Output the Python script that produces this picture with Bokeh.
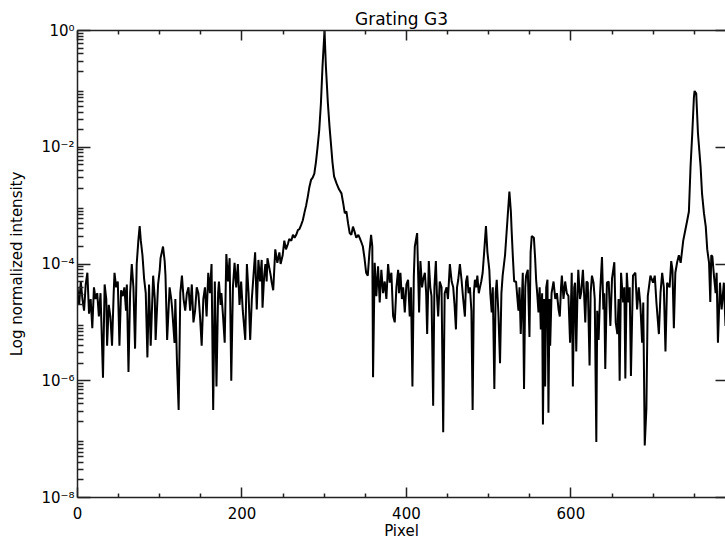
from bokeh.plotting import figure
from bokeh.models import LinearAxis, LogAxis, FixedTicker, CustomJSTickFormatter, Range1d
from bokeh.embed import file_html
from bokeh.resources import INLINE

title_text = "Grating G3"
x_label = "Pixel"
y_label = "Log normalized intensity"
x_major_ticks = [0, 200, 400, 600]
x_minor_ticks = [50, 100, 150, 250, 300, 350, 450, 500, 550, 650, 700, 750]
y_major_ticks = [1e-8, 1e-6, 1e-4, 1e-2, 1.0]

pixel = [
    0, 2, 4, 6, 8, 10, 12, 14, 16, 18,
    20, 22, 24, 26, 28, 31, 33, 35, 36, 38,
    40, 42, 44, 45, 47, 49, 51, 53, 55, 57,
    59, 60, 62, 64, 66, 68, 70, 72, 74, 75.6,
    77, 79, 81, 83, 85, 87, 89, 92, 94, 95,
    98, 100, 101, 104, 106, 107, 109, 112, 114, 115,
    118, 119, 121, 123, 125, 127, 129, 131, 133, 135,
    137, 139, 141, 143, 145, 147, 149, 151, 153, 155,
    157, 159, 161, 163, 165, 167, 169, 171, 172, 174,
    175, 177, 179, 181, 183, 185, 187, 189, 191, 193,
    195, 197, 199, 201, 204, 206, 208, 210, 212, 214,
    216, 218, 220, 222, 224, 225, 227, 228.5, 230, 231,
    233, 235, 236, 238, 240.5, 243, 245.5, 247, 249.5, 251.5,
    253.5, 256, 257.5, 260, 262, 264, 266, 268, 270, 272,
    274, 276, 278, 280, 282, 284, 286, 288, 290, 292,
    294, 296, 298, 300.4, 302, 304.5, 306.5, 308.5, 310, 312,
    315, 318, 321, 323, 325, 327, 329, 331, 333, 335,
    337, 339, 341.5, 343, 345.5, 347, 349, 351, 353, 355,
    357, 358.5, 359.4, 361.4, 363.4, 365.5, 367.5, 369.5, 371.6, 373.6,
    375.6, 377.7, 379.7, 381.7, 383.8, 385.8, 387.8, 389.9, 391, 392.7,
    394.5, 396, 398, 400, 402, 404, 405.5, 407.3, 409, 410.2,
    413, 415.4, 417, 419, 420.3, 422.4, 424, 425.2, 427.2, 429,
    430.5, 432.5, 434, 435.8, 437, 438.6, 440.5, 442.7, 444.7, 446.5,
    448.8, 450.5, 452.8, 455, 456.9, 458.5, 460.2, 461.5, 463, 465,
    467, 469, 471.1, 472.5, 474, 475.5, 477.2, 479, 480.5, 482,
    483.3, 485, 486.2, 488, 489.4, 491, 492.7, 494.5, 496.7, 498.5,
    500.8, 502, 503.7, 505, 506.9, 508.5, 509.8, 511.8, 513.8, 515.5,
    517, 519.9, 522.8, 525.2, 527, 528, 529.5, 531, 533.3, 535,
    536.2, 537.5, 539, 541.5, 543, 544.5, 545.5, 547.6, 549.6, 551,
    552.4, 555, 556.5, 557.7, 559, 560.6, 562, 563.4, 565, 566,
    567.5, 568.7, 570, 571.5, 572.7, 574, 574.8, 576.5, 578.9, 581,
    583, 585, 586.5, 588, 589, 591, 593, 595, 597, 599,
    601, 602.4, 604, 605, 606.5, 608, 609, 611, 612.5, 614.6,
    616, 617.5, 619, 620.5, 622.7, 624, 625.6, 627.5, 629, 630.9,
    632, 633.7, 635.5, 637.8, 639.5, 640.5, 641.8, 643.8, 646, 648,
    650, 652.8, 654.5, 656.5, 658, 659.3, 661, 663.5, 665, 666.2,
    668, 670, 671.5, 673, 675.5, 678.4, 680.5, 682.5, 684.5, 686.6,
    688, 689.8, 691.8, 693.5, 696.7, 699.9, 702, 704, 707, 709,
    711, 713, 715, 717, 720, 722, 723.5, 725.2, 727, 729.2,
    731.3, 733.5, 736.6, 739.4, 741.5, 743.5, 745.5, 747.6, 749.6, 750.4,
    752.4, 754.5, 757.7, 759.5, 761.8, 764, 765.8, 768, 769.5, 770.7,
    772, 774, 776, 777.2, 778.8, 781.3, 783.3, 786, 788, 790,
]

log10_intensity = [
    -4.4, -4.7, -4.3, -4.6, -4.8, -4.35, -4.15, -4.85, -4.6, -5.1,
    -4.4, -4.6, -4.5, -4.9, -4.5, -5.95, -4.35, -4.6, -5.4, -4.7,
    -4.9, -5.4, -4.5, -4.15, -4.4, -4.3, -5.4, -4.45, -4.55, -4.4,
    -4.8, -4.35, -5.85, -4.5, -4.0, -4.4, -5.45, -4.0, -3.6, -3.35,
    -3.6, -3.85, -4.25, -4.5, -5.6, -4.35, -5.4, -4.2, -4.6, -5.3,
    -4.35, -4.1, -3.9, -3.7, -3.95, -4.2, -5.3, -4.4, -4.6, -4.75,
    -5.35, -4.6, -5.7, -6.5, -4.5, -4.2, -4.6, -4.8, -4.5, -4.4,
    -4.8, -4.35, -5.0, -4.8, -4.4, -4.5, -4.9, -5.4, -4.6, -4.4,
    -4.9, -4.15, -4.5, -4.0, -6.5, -4.3, -6.1, -4.5, -4.3, -4.7,
    -4.5, -4.9, -5.35, -3.83, -4.3, -3.9, -6.0, -4.4, -3.98, -4.4,
    -4.0, -4.7, -4.3, -4.8, -5.3, -4.0, -4.5, -5.3, -4.6, -4.2,
    -3.8, -4.78, -3.93, -4.3, -3.93, -4.75, -4.2, -4.0, -4.3, -3.9,
    -4.05, -4.2, -4.3, -4.45, -3.75, -3.98, -3.8, -4.0, -3.85, -3.6,
    -3.75, -3.65, -3.57, -3.6, -3.5, -3.55, -3.5, -3.42, -3.4, -3.33,
    -3.25, -3.12, -3.0, -2.85, -2.68, -2.56, -2.52, -2.45, -2.25, -1.99,
    -1.7, -1.25, -0.6, 0.0, -0.6, -1.25, -1.65, -1.99, -2.25, -2.5,
    -2.62, -2.72, -2.79, -2.95, -3.13, -3.1, -3.3, -3.47, -3.5, -3.36,
    -3.45, -3.55, -3.5, -3.55, -3.64, -3.7, -3.9, -4.15, -4.2, -3.8,
    -3.5, -3.7, -5.94, -3.98, -4.55, -4.04, -4.66, -4.1, -4.5, -4.3,
    -4.6, -4.0, -4.32, -4.15, -4.89, -5.0, -4.4, -4.1, -4.5, -4.15,
    -4.6, -4.4, -4.83, -4.35, -4.27, -4.9, -4.4, -6.1, -4.2, -3.7,
    -3.47, -4.83, -3.95, -4.4, -4.27, -4.15, -4.5, -5.2, -3.95, -4.4,
    -4.55, -6.43, -4.4, -3.95, -4.5, -4.9, -4.3, -4.4, -6.88, -4.5,
    -4.4, -4.6, -4.0, -4.3, -4.4, -4.7, -5.12, -4.4, -4.27, -4.0,
    -4.27, -4.6, -4.9, -4.3, -4.2, -4.5, -4.4, -4.8, -6.5, -4.5,
    -4.27, -4.4, -4.2, -4.5, -4.4, -4.3, -4.15, -3.8, -3.35, -3.8,
    -4.1, -4.5, -4.83, -4.4, -6.14, -4.5, -4.27, -4.83, -5.7, -4.5,
    -4.2, -3.85, -3.25, -2.76, -3.1, -3.45, -3.9, -4.3, -4.3, -4.6,
    -4.8, -4.4, -5.2, -4.15, -6.14, -4.4, -4.2, -4.1, -5.25, -3.8,
    -3.52, -3.55, -3.9, -4.27, -4.5, -4.83, -4.4, -5.12, -4.5, -6.75,
    -4.6, -6.1, -4.4, -4.27, -6.55, -4.6, -5.4, -4.5, -4.3, -4.6,
    -4.5, -4.78, -4.9, -4.4, -4.2, -4.6, -4.3, -4.5, -4.55, -5.35,
    -4.15, -6.1, -4.4, -4.32, -5.5, -4.5, -4.1, -4.6, -4.49, -4.1,
    -4.5, -5.0, -4.3, -4.32, -5.74, -4.5, -4.2, -4.32, -4.6, -7.05,
    -4.8, -5.3, -4.5, -3.88, -4.78, -4.5, -5.8, -4.32, -4.3, -5.06,
    -4.25, -3.97, -5.0, -5.2, -4.6, -6.0, -4.15, -4.66, -4.4, -5.96,
    -4.15, -4.66, -4.4, -5.92, -4.2, -4.15, -4.78, -4.4, -4.7, -5.35,
    -4.66, -7.11, -6.48, -4.55, -4.2, -4.32, -4.2, -4.66, -5.2, -4.49,
    -4.15, -4.4, -5.5, -4.32, -4.4, -3.95, -4.1, -5.1, -4.15, -3.97,
    -3.85, -3.98, -3.6, -3.4, -3.25, -3.1, -2.33, -1.76, -1.14, -1.035,
    -1.08, -1.76, -2.33, -2.8, -3.13, -3.36, -3.75, -3.98, -4.65, -3.85,
    -3.87, -4.21, -4.5, -4.15, -5.35, -4.32, -4.78, -4.32, -5.06, -4.4,
]

intensity = [10 ** v for v in log10_intensity]

FONT = "DejaVu Sans"
AXIS_COLOR = "#222222"

p = figure(width=725, height=542, output_backend="svg", toolbar_location=None,
           y_axis_type="log", x_range=Range1d(0, 788), y_range=Range1d(1e-8, 1.0),
           title=title_text, min_border_left=77, min_border_top=30,
           min_border_bottom=43, min_border_right=0)
p.background_fill_color = "white"
p.border_fill_color = "white"
p.outline_line_color = None
p.grid.visible = False

p.title.align = "center"
p.title.text_font = FONT
p.title.text_font_style = "normal"
p.title.text_font_size = "17px"
p.title.text_color = "black"
p.title.standoff = 4

p.line(pixel, intensity, line_color="black", line_width=2.0)

sup_code = """
const e = Math.round(Math.log10(tick));
const m = {'-':'\u207b','0':'\u2070','1':'\u00b9','2':'\u00b2','3':'\u00b3','4':'\u2074','5':'\u2075','6':'\u2076','7':'\u2077','8':'\u2078','9':'\u2079'};
return '10' + String(e).split('').map(c => m[c]).join('');
"""
y_minor = [m * 10.0 ** e for e in range(-8, 0) for m in range(2, 10)]

def base_style(ax):
    ax.axis_line_color = AXIS_COLOR
    ax.axis_line_width = 1.5
    ax.major_tick_line_color = AXIS_COLOR
    ax.minor_tick_line_color = AXIS_COLOR
    ax.major_tick_line_width = 1.5
    ax.minor_tick_line_width = 1.5
    ax.major_tick_out = 0
    ax.minor_tick_out = 0
    ax.major_label_text_font = FONT
    ax.major_label_text_font_size = "15px"
    ax.major_label_text_color = "black"

def hide_labels(ax):
    ax.formatter = CustomJSTickFormatter(code="return '';")
    ax.major_label_text_font_size = "1px"
    ax.major_label_standoff = 0

def style_x(ax, labels=True):
    base_style(ax)
    ax.ticker = FixedTicker(ticks=x_major_ticks, minor_ticks=x_minor_ticks)
    ax.major_tick_in = 10
    ax.minor_tick_in = 4
    if not labels:
        hide_labels(ax)

def style_y(ax, labels=True):
    base_style(ax)
    ax.ticker = FixedTicker(ticks=y_major_ticks, minor_ticks=y_minor)
    ax.major_tick_in = 13
    ax.minor_tick_in = 6
    if labels:
        ax.formatter = CustomJSTickFormatter(code=sup_code)
    else:
        hide_labels(ax)

xb = p.xaxis[0]
style_x(xb)
xb.axis_label = x_label
xb.axis_label_text_font = FONT
xb.axis_label_text_font_style = "normal"
xb.axis_label_text_font_size = "15px"
xb.axis_label_text_color = "black"
xb.axis_label_standoff = 0
xb.major_label_standoff = 9

yl = p.yaxis[0]
style_y(yl)
yl.axis_label = y_label
yl.axis_label_text_font = FONT
yl.axis_label_text_font_style = "normal"
yl.axis_label_text_font_size = "15px"
yl.axis_label_text_color = "black"
yl.axis_label_standoff = 12
yl.major_label_standoff = 3

xt = LinearAxis()
style_x(xt, labels=False)
p.add_layout(xt, "above")

yr = LogAxis()
style_y(yr, labels=False)
yr.major_tick_in = 10
yr.minor_tick_in = 0
yr.axis_line_color = None
p.add_layout(yr, "right")

open("out.html", "w").write(file_html(p, INLINE))
